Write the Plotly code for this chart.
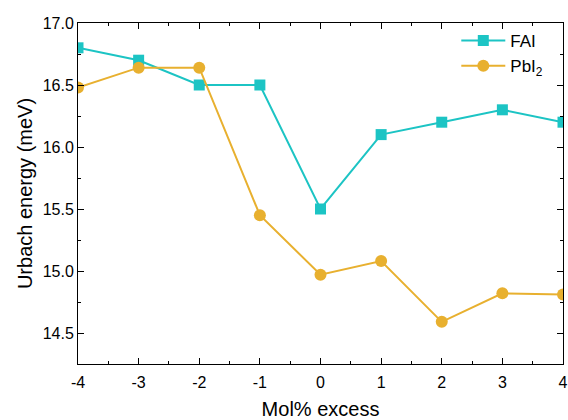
import plotly.graph_objects as go

x_vals = [-4, -3, -2, -1, 0, 1, 2, 3, 4]
fai = [16.8, 16.7, 16.5, 16.5, 15.5, 16.1, 16.2, 16.3, 16.2]
pbi2 = [16.48, 16.64, 16.64, 15.45, 14.97, 15.08, 14.59, 14.82, 14.81]
x_ticks = [-4, -3, -2, -1, 0, 1, 2, 3, 4]
y_ticks = [14.5, 15.0, 15.5, 16.0, 16.5, 17.0]

fig = go.Figure()
fig.add_trace(go.Scatter(x=x_vals, y=fai, mode="lines+markers", name="FAI",
                         line=dict(color="#1cc4c4", width=2),
                         marker=dict(symbol="square", size=11, color="#1cc4c4")))
fig.add_trace(go.Scatter(x=x_vals, y=pbi2, mode="lines+markers", name="PbI<sub>2</sub>",
                         line=dict(color="#e8b02f", width=2),
                         marker=dict(symbol="circle", size=12, color="#e8b02f")))

axis_common = dict(showline=True, linecolor="black", linewidth=1, mirror="ticks",
                   ticks="inside", ticklen=6, tickcolor="black", showgrid=False,
                   zeroline=False, tickfont=dict(size=16, color="black"), automargin=False)
fig.update_xaxes(range=[-4, 4], tickvals=x_ticks, ticktext=[str(v) for v in x_ticks],
                 ticklabelstandoff=4,
                 title=dict(text="Mol% excess", font=dict(size=20, color="black"), standoff=12),
                 minor=dict(ticks="inside", ticklen=3, dtick=0.5, tickcolor="black"),
                 **axis_common)
fig.update_yaxes(range=[14.25, 17.0], tickvals=y_ticks, ticktext=[f"{v:.1f}" for v in y_ticks],
                 title=dict(text="Urbach energy (meV)", font=dict(size=20, color="black"), standoff=4),
                 minor=dict(ticks="inside", ticklen=3, dtick=0.25, tickcolor="black"),
                 **axis_common)
fig.update_layout(width=568, height=420, margin=dict(l=78, r=5, t=23, b=56),
                  plot_bgcolor="white", paper_bgcolor="white",
                  font=dict(family="Liberation Sans, Arial, sans-serif", color="black"),
                  legend=dict(x=0.78, y=1.0, xanchor="left", yanchor="top",
                              bgcolor="rgba(0,0,0,0)", font=dict(size=17),
                              itemwidth=44, tracegroupgap=0))
fig.write_html("out.html", config={"displayModeBar": False},
               post_script="document.body.style.margin='0';document.body.style.overflow='hidden';")
